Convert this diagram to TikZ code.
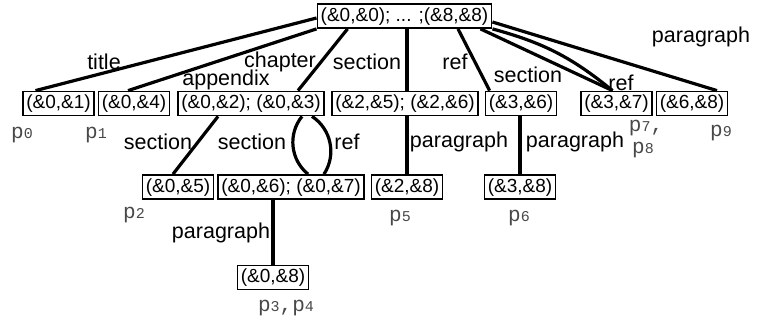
\documentclass[tikz,border=0pt]{standalone}
\usepackage{fontspec}
\setmainfont{Liberation Sans}
\newfontfamily\pmono{Liberation Mono}
\definecolor{pgray}{HTML}{484848}
\newcommand{\plab}[1]{{\pmono\fontsize{21}{21}\selectfont #1}}
\newcommand{\sdig}[1]{{\fontsize{15}{15}\selectfont #1}}
\begin{document}
\begin{tikzpicture}[x=1pt,y=-1pt,
  box/.style={draw, line width=1.8pt, inner xsep=3.3pt, inner ysep=3pt, text height=14pt, text depth=4pt, font=\fontsize{19}{19}\selectfont},
  lab/.style={inner sep=0pt, font=\fontsize{21.5}{21.5}\selectfont},
  edge/.style={line width=3.2pt},
  plabel/.style={inner sep=0pt, text=pgray}]
\useasboundingbox (0,0) rectangle (760,322);
% boxes
\node[box] (root) at (404.5,16) {(\&0,\&0); ... ;(\&8,\&8)};
\node[box] (n01) at (58.5,103.5) {(\&0,\&1)};
\node[box] (n04) at (134,103.5) {(\&0,\&4)};
\node[box] (n0203) at (251,103.5) {(\&0,\&2); (\&0,\&3)};
\node[box] (n25) at (405,103.5) {(\&2,\&5); (\&2,\&6)};
\node[box] (n36) at (521,103.5) {(\&3,\&6)};
\node[box] (n37) at (616.5,103.5) {(\&3,\&7)};
\node[box] (n68) at (692,103.5) {(\&6,\&8)};
\node[box] (n05) at (178,187) {(\&0,\&5)};
\node[box] (n0607) at (291,187) {(\&0,\&6); (\&0,\&7)};
\node[box] (n28) at (407,187) {(\&2,\&8)};
\node[box] (n38) at (520,187) {(\&3,\&8)};
\node[box] (n08) at (273,277.5) {(\&0,\&8)};
% edges from root
\draw[edge] ([yshift=-2pt]root.west) -- ([xshift=-23pt]n01.north);
\draw[edge] (root.south west) -- ([xshift=-6pt]n04.north);
\draw[edge] ([xshift=31pt]root.south west) -- ([xshift=47pt]n0203.north);
\draw[edge] ([xshift=2.5pt]root.south) -- ([xshift=2pt]n25.north);
\draw[edge] ([xshift=53.5pt]root.south) -- ([xshift=5pt]n36.north west);
\draw[edge] ([xshift=-12pt]root.south east) -- ([xshift=-4pt]n37.north);
\draw[edge] (root.south east) to[bend left=12] ([xshift=-4pt]n37.north);
\draw[edge] ([yshift=-6pt]root.east) -- ([xshift=25pt]n68.north);
% lower edges
\draw[edge] ([xshift=-33pt]n0203.south) -- ([xshift=-5pt]n05.north);
\draw[edge] ([xshift=51pt]n0203.south) to[bend right=45] ([xshift=17pt]n0607.north);
\draw[edge] ([xshift=61pt]n0203.south) to[bend left=45] ([xshift=33pt]n0607.north);
\draw[edge] (n28.north) -- (n28.north |- n25.south);
\draw[edge] (n38.north) -- (n38.north |- n36.south);
\draw[edge] (n08.north) -- (n08.north |- n0607.south);
% edge labels
\node[lab] (l1) at (104,62) {title};
\node[lab] (l2) at (226,80) {appendix};
\node[lab] (l3) at (280,62) {chapter};
\node[lab] (l4) at (367,62) {section};
\node[lab] (l5) at (455,62) {ref};
\node[lab] (l6) at (528,75) {section};
\node[lab] (l7) at (621,83) {ref};
\node[lab] (l8) at (701,37) {paragraph};
\node[lab] (l9) at (158,142) {section};
\node[lab] (l10) at (252,142) {section};
\node[lab] (l11) at (347,142) {ref};
\node[lab] (l12) at (221,233) {paragraph};
\node[lab] (l13) at (459,142) {paragraph};
\node[lab] (l14) at (575,142) {paragraph};
% p labels
\node[plabel] (p0) at (22,135) {\plab{p\sdig{0}}};
\node[plabel] (p1) at (96,135) {\plab{p\sdig{1}}};
\node[plabel] (p2) at (134,215) {\plab{p\sdig{2}}};
\node[plabel] (p5) at (400,218) {\plab{p\sdig{5}}};
\node[plabel] (p6) at (519,218) {\plab{p\sdig{6}}};
\node[plabel] (p7) at (646,128) {\plab{p\sdig{7},}};
\node[plabel] (p8) at (643,150) {\plab{p\sdig{8}}};
\node[plabel] (p9) at (721,133) {\plab{p\sdig{9}}};
\node[plabel] (p34) at (286,308) {\plab{p\sdig{3},p\sdig{4}}};
\end{tikzpicture}
\end{document}
